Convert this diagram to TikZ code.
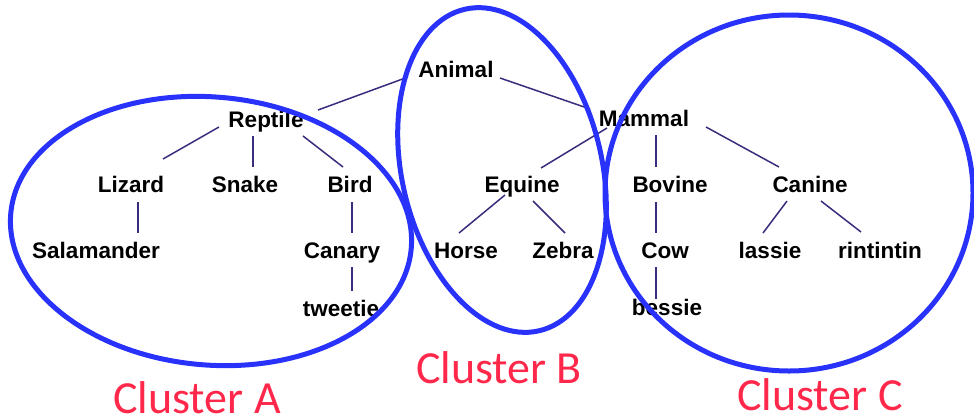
\documentclass[tikz,border=0pt]{standalone}
\usepackage{fontspec}
\setmainfont{Liberation Sans}
\newfontfamily\clusterfont{Carlito}
\definecolor{edgecol}{RGB}{55,45,125}
\definecolor{ringcol}{RGB}{40,50,250}
\definecolor{labelcol}{RGB}{255,40,75}
\tikzset{
  tnode/.style={anchor=base, inner sep=0pt, font=\fontsize{22.5}{24}\selectfont\bfseries},
  edge/.style={draw=edgecol, line width=1.5pt},
  ring/.style={draw=ringcol, line width=5pt},
  clabel/.style={anchor=base, inner sep=0pt, text depth=0pt, text=labelcol, font=\clusterfont\fontsize{46}{50}\selectfont}
}
\begin{document}
\begin{tikzpicture}[x=1pt,y=-1pt]
\useasboundingbox (0,0) rectangle (974,416);
% nodes
\node[tnode] (animal) at (456,77.5) {Animal};
\node[tnode] (reptile) at (266,127) {Reptile};
\node[tnode] (mammal) at (644,126) {Mammal};
\node[tnode] (lizard) at (131,192) {Lizard};
\node[tnode] (snake) at (245,192) {Snake};
\node[tnode] (bird) at (350,192) {Bird};
\node[tnode] (equine) at (522,192) {Equine};
\node[tnode] (bovine) at (670,192) {Bovine};
\node[tnode] (canine) at (810,192) {Canine};
\node[tnode] (salamander) at (96,258) {Salamander};
\node[tnode] (canary) at (342,258) {Canary};
\node[tnode] (horse) at (466,258) {Horse};
\node[tnode] (zebra) at (563,258) {Zebra};
\node[tnode] (cow) at (665,258) {Cow};
\node[tnode] (lassie) at (770,258) {lassie};
\node[tnode] (rintintin) at (880,258) {rintintin};
\node[tnode] (tweetie) at (341,316) {tweetie};
\node[tnode] (bessie) at (667,315) {bessie};
% edges
\draw[edge] ([shift={(-48,-0.5)}]animal.base) -- ([shift={(52,-17)}]reptile.base);
\draw[edge] ([shift={(44,0.5)}]animal.base) -- ([shift={(-54,-17)}]mammal.base);
\draw[edge] ([shift={(-47,0)}]reptile.base) -- ([shift={(32,-33)}]lizard.base);
\draw[edge] ([shift={(-13,9)}]reptile.base) -- ([shift={(8,-25)}]snake.base);
\draw[edge] ([shift={(37,9)}]reptile.base) -- ([shift={(-7,-25)}]bird.base);
\draw[edge] ([shift={(7,10)}]lizard.base) -- ([shift={(42,-25)}]salamander.base);
\draw[edge] ([shift={(2,10)}]bird.base) -- ([shift={(10,-25)}]canary.base);
\draw[edge] ([shift={(10,9)}]canary.base) -- ([shift={(11,-25)}]tweetie.base);
\draw[edge] ([shift={(-37,2)}]mammal.base) -- ([shift={(19,-24)}]equine.base);
\draw[edge] ([shift={(-17,3)}]equine.base) -- ([shift={(-7,-25)}]horse.base);
\draw[edge] ([shift={(11,9)}]equine.base) -- ([shift={(2,-25)}]zebra.base);
\draw[edge] ([shift={(12,9)}]mammal.base) -- ([shift={(-14,-25)}]bovine.base);
\draw[edge] ([shift={(-14,10)}]bovine.base) -- ([shift={(-9,-25)}]cow.base);
\draw[edge] ([shift={(-9,9)}]cow.base) -- ([shift={(-11,-16)}]bessie.base);
\draw[edge] ([shift={(62,1)}]mammal.base) -- ([shift={(-31,-25)}]canine.base);
\draw[edge] ([shift={(-23,9)}]canine.base) -- ([shift={(-7,-25)}]lassie.base);
\draw[edge] ([shift={(11,9)}]canine.base) -- ([shift={(-19,-26)}]rintintin.base);
% cluster rings
\draw[ring, rotate around={-5:(211,231)}] (211,231) ellipse [x radius=201pt, y radius=134pt];
\draw[ring, rotate around={13:(502,170)}] (502,170) ellipse [x radius=100pt, y radius=165pt];
\draw[ring] (789,193) ellipse [x radius=184pt, y radius=178pt];
% cluster labels
\node[clabel] (la) at (197,413) {Cluster A};
\node[clabel] (lb) at (499,383) {Cluster B};
\node[clabel] (lc) at (820,410) {Cluster C};
\end{tikzpicture}
\end{document}
